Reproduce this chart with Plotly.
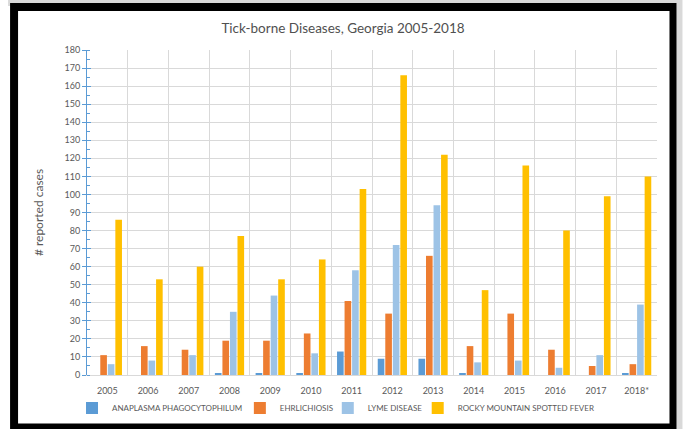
import plotly.graph_objects as go

years = ["2005", "2006", "2007", "2008", "2009", "2010", "2011", "2012",
         "2013", "2014", "2015", "2016", "2017", "2018*"]
anaplasma = [0, 0, 0, 1, 1, 1, 13, 9, 9, 1, 0, 0, 0, 1]
ehrlichiosis = [11, 16, 14, 19, 19, 23, 41, 34, 66, 16, 34, 14, 5, 6]
lyme = [6, 8, 11, 35, 44, 12, 58, 72, 94, 7, 8, 4, 11, 39]
rmsf = [86, 53, 60, 77, 53, 64, 103, 166, 122, 47, 116, 80, 99, 110]

series_names = ["ANAPLASMA PHAGOCYTOPHILUM", "EHRLICHIOSIS", "LYME DISEASE",
                "ROCKY MOUNTAIN SPOTTED FEVER"]
series_values = [anaplasma, ehrlichiosis, lyme, rmsf]
series_colors = ["#5B9BD5", "#ED7D31", "#9DC3E6", "#FFC000"]

W, H = 683, 429
ML, MR, MT, MB = 87, 25.5, 50, 54
PW, PH = W - ML - MR, H - MT - MB

FONT = "Lato"
GRAY = "#595959"
AX_BLUE = "#5B9BD5"

# pixel position of each legend entry (left edge of the entry block)
legend_left_px = [72, 240, 328, 418]
legend_ids = ["legend", "legend2", "legend3", "legend4"]

fig = go.Figure()
for name, vals, col, lid in zip(series_names, series_values, series_colors, legend_ids):
    fig.add_trace(go.Bar(x=years, y=vals, name=name, legend=lid,
                         marker=dict(color=col, line=dict(width=0))))

# invisible trace on overlay axis for crossing major ticks
fig.add_trace(go.Scatter(x=[years[0]], y=[0], yaxis="y2", mode="markers",
                         marker=dict(opacity=0), showlegend=False, hoverinfo="skip"))


def px_x(px):
    return (px - ML) / PW


def px_y(py):
    return 1 - (py - MT) / PH


shapes = [
    dict(type="rect", xref="paper", yref="paper", layer="below",
         x0=px_x(0), x1=px_x(W), y0=px_y(0), y1=px_y(H),
         fillcolor="white", line=dict(width=0)),
    # top/right shadow
    dict(type="rect", xref="paper", yref="paper", layer="below",
         x0=px_x(8), x1=px_x(W), y0=px_y(0), y1=px_y(H),
         fillcolor="#d9d9d9", line=dict(width=0)),
    dict(type="rect", xref="paper", yref="paper", layer="below",
         x0=px_x(0), x1=px_x(12), y0=px_y(6), y1=px_y(H),
         fillcolor="white", line=dict(width=0)),
    # black frame
    dict(type="rect", xref="paper", yref="paper", layer="below",
         x0=px_x(10), x1=px_x(677), y0=px_y(3), y1=px_y(H),
         fillcolor="black", line=dict(width=0)),
    dict(type="rect", xref="paper", yref="paper", layer="below",
         x0=px_x(18), x1=px_x(670), y0=px_y(11), y1=px_y(423.5),
         fillcolor="white", line=dict(width=0)),
]

legend_layout = {}
for lid, lx in zip(legend_ids, legend_left_px):
    legend_layout[lid] = dict(
        orientation="h", x=px_x(lx), xanchor="left",
        y=-(408 - 375) / PH, yanchor="middle",
        font=dict(size=8, color=GRAY), itemwidth=30,
        bgcolor="rgba(0,0,0,0)", borderwidth=0)

fig.update_layout(
    width=W, height=H,
    margin=dict(l=ML, r=MR, t=MT, b=MB, pad=0, autoexpand=False),
    paper_bgcolor="white",
    plot_bgcolor="rgba(0,0,0,0)",
    font=dict(family=FONT, color=GRAY, size=9),
    title=dict(text="Tick-borne Diseases, Georgia 2005-2018",
               x=343 / W, xanchor="center", y=1 - 28 / H, yanchor="middle",
               font=dict(family=FONT, size=13.5, color="#505050")),
    barmode="group", bargap=0.26, bargroupgap=0.12,
    shapes=shapes,
    showlegend=True,
    xaxis=dict(type="category", tickson="boundaries", showgrid=True,
               range=[-0.5, len(years) - 0.5], autorange=False,
               gridcolor="#D9D9D9", gridwidth=1, ticks="", showline=True,
               linecolor="#D9D9D9", linewidth=1, automargin=False,
               tickfont=dict(size=9, color=GRAY), ticklabelstandoff=7),
    yaxis=dict(range=[0, 180], dtick=10, showgrid=True, gridcolor="#D9D9D9",
               gridwidth=1, showline=True, linecolor=AX_BLUE, linewidth=1,
               ticks="outside", ticklen=4, tickcolor=AX_BLUE, zeroline=False,
               automargin=False,
               minor=dict(ticks="inside", ticklen=3, dtick=5, tickcolor=AX_BLUE,
                          showgrid=False),
               tickfont=dict(size=9, color=GRAY),
               title=dict(text="# reported cases", standoff=18,
                          font=dict(size=12, color=GRAY))),
    yaxis2=dict(range=[0, 180], dtick=10, overlaying="y", side="left",
                showgrid=False, showline=False, ticks="inside", ticklen=4,
                tickcolor=AX_BLUE, showticklabels=False, zeroline=False),
    **legend_layout,
)

fig.write_html("out.html", config={"displayModeBar": False},
               post_script="document.body.style.margin='0px';")
